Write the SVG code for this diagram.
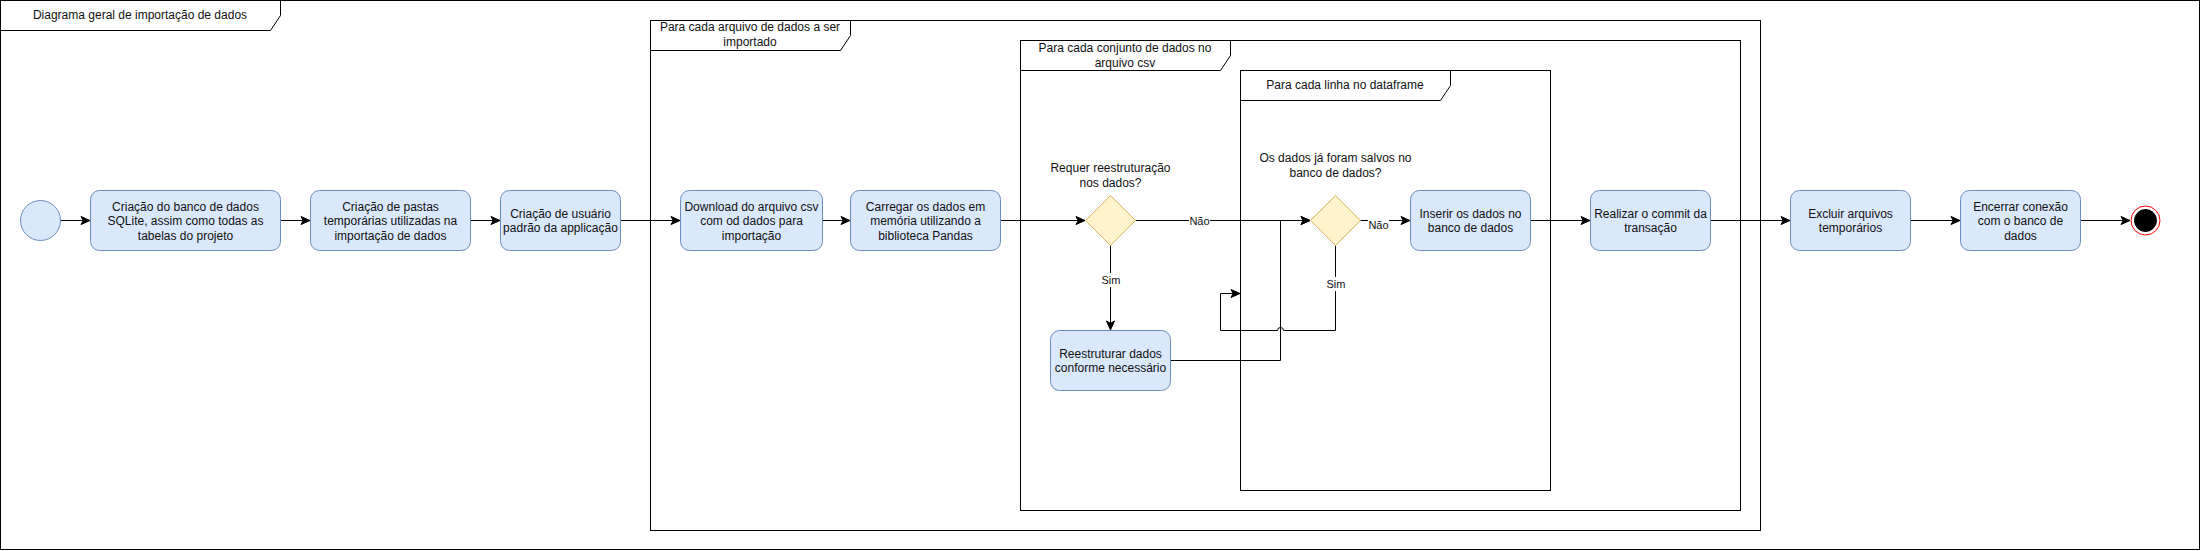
<svg xmlns="http://www.w3.org/2000/svg" width="2202" height="551" viewBox="0 0 2202 551">
<defs>
<marker id="arr" markerUnits="userSpaceOnUse" markerWidth="12" markerHeight="12" viewBox="-1 -6 12 12" refX="9" refY="0" orient="auto">
<path d="M0,-4 L9,0 L0,4 L2.2,0 Z" fill="#000" stroke="#000" stroke-width="1"/>
</marker>
</defs>
<style>
text{font-family:"Liberation Sans",Arial,Helvetica,sans-serif;font-size:12px;fill:#111;text-anchor:middle}
.frame{fill:none;stroke:#000;stroke-width:1}
.tab{fill:#fff;stroke:#000;stroke-width:1}
.act{fill:#dae8fc;stroke:#6c8ebf;stroke-width:1}
.dec{fill:#fff2cc;stroke:#d6b656;stroke-width:1}
.edge{fill:none;stroke:#000;stroke-width:1}
.lbl{font-size:11px}
.lblbg{fill:#fff}
</style>
<rect width="2202" height="551" fill="#fff"/>

<g id="frame-main">
<rect class="frame" x="0.5" y="0.5" width="2199" height="549"/>
<path class="tab" d="M0.5,0.5 H280.5 V15.5 L270.5,30.5 H0.5 Z"/>
<text x="140" y="19">Diagrama geral de importação de dados</text>
</g>

<g id="loop-arquivo">
<rect class="frame" x="650.5" y="20.5" width="1110" height="510"/>
<path class="tab" d="M650.5,20.5 H850.5 V35.5 L840.5,50.5 H650.5 Z"/>
<text x="750" y="31">Para cada arquivo de dados a ser</text>
<text x="750" y="46">importado</text>
</g>

<g id="loop-conjunto">
<rect class="frame" x="1020.5" y="40.5" width="720" height="470"/>
<path class="tab" d="M1020.5,40.5 H1230.5 V55.5 L1220.5,70.5 H1020.5 Z"/>
<text x="1125" y="52">Para cada conjunto de dados no</text>
<text x="1125" y="66.5">arquivo csv</text>
</g>

<g id="loop-linha">
<rect class="frame" x="1240.5" y="70.5" width="310" height="420"/>
<path class="tab" d="M1240.5,70.5 H1450.5 V85.5 L1440.5,100.5 H1240.5 Z"/>
<text x="1345" y="89">Para cada linha no dataframe</text>
</g>

<g id="connectors">
<path class="edge" d="M60,220.5 H90" marker-end="url(#arr)"/>
<path class="edge" d="M280,220.5 H310" marker-end="url(#arr)"/>
<path class="edge" d="M470,220.5 H500" marker-end="url(#arr)"/>
<path class="edge" d="M620,220.5 H680" marker-end="url(#arr)"/>
<path class="edge" d="M822,220.5 H850" marker-end="url(#arr)"/>
<path class="edge" d="M1000,220.5 H1085" marker-end="url(#arr)"/>
<path class="edge" d="M1135,220.5 H1310" marker-end="url(#arr)"/>
<path class="edge" d="M1110.5,245 V330" marker-end="url(#arr)"/>
<path class="edge" d="M1170,360.5 H1280.5 V220.5 H1310" marker-end="url(#arr)"/>
<path class="edge" d="M1335.5,245 V330.5 H1283.5 A3,3 0 0 0 1277.5,330.5 H1220.5 V293.5 H1240" marker-end="url(#arr)"/>
<path class="edge" d="M1360,220.5 H1410" marker-end="url(#arr)"/>
<path class="edge" d="M1530,220.5 H1590" marker-end="url(#arr)"/>
<path class="edge" d="M1710,220.5 H1790" marker-end="url(#arr)"/>
<path class="edge" d="M1910,220.5 H1960" marker-end="url(#arr)"/>
<path class="edge" d="M2080,220.5 H2130" marker-end="url(#arr)"/>
<rect class="lblbg" x="1189" y="213" width="21" height="14"/>
<text class="lbl" x="1199.5" y="224.5">Não</text>
<rect class="lblbg" x="1368" y="217" width="21" height="14"/>
<text class="lbl" x="1378.5" y="228.5">Não</text>
<rect class="lblbg" x="1101" y="273" width="20" height="14"/>
<text class="lbl" x="1111" y="284">Sim</text>
<rect class="lblbg" x="1326" y="277" width="20" height="14"/>
<text class="lbl" x="1336" y="288">Sim</text>
</g>

<g id="start">
<circle class="act" cx="40.5" cy="220.5" r="20"/>
</g>

<g id="n-banco">
<rect class="act" x="90.5" y="190.5" width="190" height="60" rx="9"/>
<text x="185.5" y="210.5">Criação do banco de dados</text>
<text x="185.5" y="225">SQLite, assim como todas as</text>
<text x="185.5" y="239.5">tabelas do projeto</text>
</g>

<g id="n-pastas">
<rect class="act" x="310.5" y="190.5" width="160" height="60" rx="9"/>
<text x="390.5" y="210.5">Criação de pastas</text>
<text x="390.5" y="225">temporárias utilizadas na</text>
<text x="390.5" y="239.5">importação de dados</text>
</g>

<g id="n-usuario">
<rect class="act" x="500.5" y="190.5" width="120" height="60" rx="9"/>
<text x="560.5" y="217.5">Criação de usuário</text>
<text x="560.5" y="232">padrão da applicação</text>
</g>

<g id="n-download">
<rect class="act" x="680.5" y="190.5" width="142" height="60" rx="9"/>
<text x="751.5" y="210.5">Download do arquivo csv</text>
<text x="751.5" y="225">com od dados para</text>
<text x="751.5" y="239.5">importação</text>
</g>

<g id="n-carregar">
<rect class="act" x="850.5" y="190.5" width="150" height="60" rx="9"/>
<text x="925.5" y="210.5">Carregar os dados em</text>
<text x="925.5" y="225">memória utilizando a</text>
<text x="925.5" y="239.5">biblioteca Pandas</text>
</g>

<g id="d-reestruturacao">
<path class="dec" d="M1110.5,195.5 L1135.5,220.5 L1110.5,245.5 L1085.5,220.5 Z"/>
<text x="1110.5" y="172">Requer reestruturação</text>
<text x="1110.5" y="186.5">nos dados?</text>
</g>

<g id="n-reestruturar">
<rect class="act" x="1050.5" y="330.5" width="120" height="60" rx="9"/>
<text x="1110.5" y="357.5">Reestruturar dados</text>
<text x="1110.5" y="372">conforme necessário</text>
</g>

<g id="d-salvos">
<path class="dec" d="M1335.5,195.5 L1360.5,220.5 L1335.5,245.5 L1310.5,220.5 Z"/>
<text x="1335.5" y="162">Os dados já foram salvos no</text>
<text x="1335.5" y="176.5">banco de dados?</text>
</g>

<g id="n-inserir">
<rect class="act" x="1410.5" y="190.5" width="120" height="60" rx="9"/>
<text x="1470.5" y="217.5">Inserir os dados no</text>
<text x="1470.5" y="232">banco de dados</text>
</g>

<g id="n-commit">
<rect class="act" x="1590.5" y="190.5" width="120" height="60" rx="9"/>
<text x="1650.5" y="217.5">Realizar o commit da</text>
<text x="1650.5" y="232">transação</text>
</g>

<g id="n-excluir">
<rect class="act" x="1790.5" y="190.5" width="120" height="60" rx="9"/>
<text x="1850.5" y="217.5">Excluir arquivos</text>
<text x="1850.5" y="232">temporários</text>
</g>

<g id="n-encerrar">
<rect class="act" x="1960.5" y="190.5" width="120" height="60" rx="9"/>
<text x="2020.5" y="210.5">Encerrar conexão</text>
<text x="2020.5" y="225">com o banco de</text>
<text x="2020.5" y="239.5">dados</text>
</g>

<g id="end">
<circle cx="2145.5" cy="220.5" r="14.5" fill="#fff" stroke="#ff0000" stroke-width="1"/>
<circle cx="2145.5" cy="220.5" r="11" fill="#000" stroke="#000" stroke-width="1"/>
</g>
</svg>
